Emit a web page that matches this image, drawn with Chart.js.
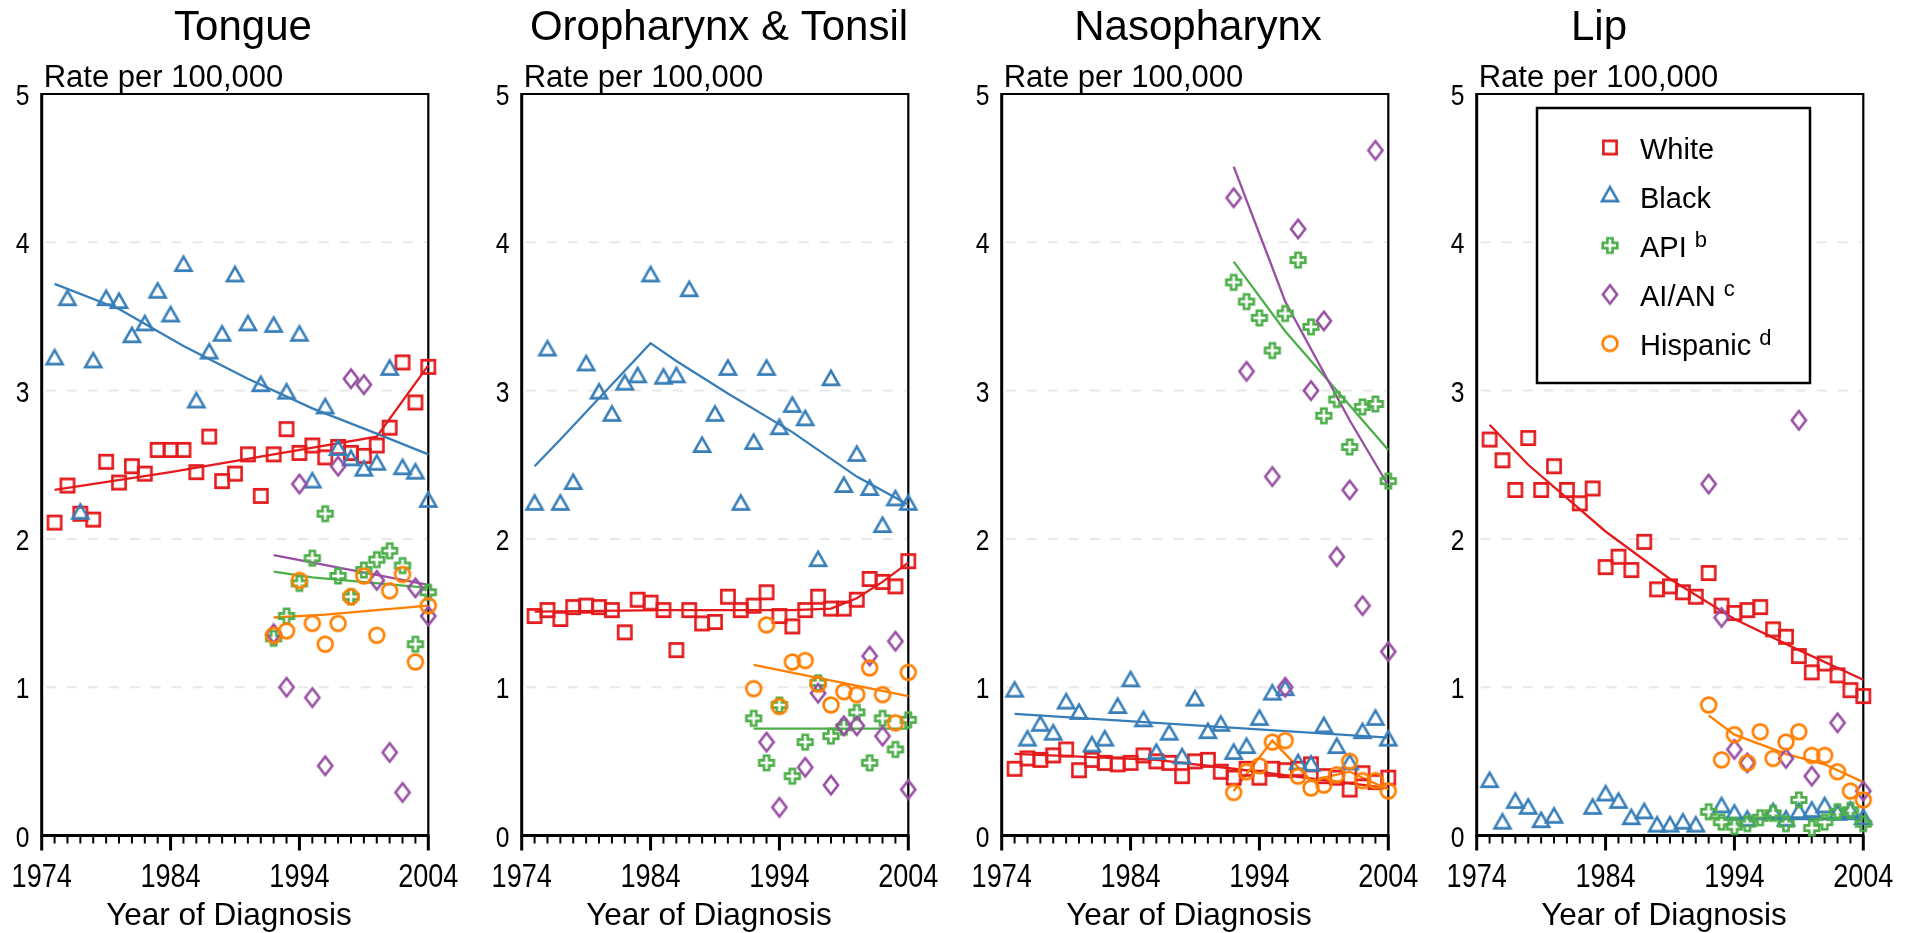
<!DOCTYPE html>
<html><head><meta charset="utf-8">
<script src="https://cdn.jsdelivr.net/npm/chart.js@4.4.1/dist/chart.umd.min.js"></script>
<style>
html,body{margin:0;padding:0;background:#fff;overflow:hidden;width:1914px;height:933px;}
canvas{position:absolute;top:0;}
</style></head><body>
<canvas id="c0" width="480" height="933" style="left:0px"></canvas>
<canvas id="c1" width="480" height="933" style="left:480px"></canvas>
<canvas id="c2" width="480" height="933" style="left:960px"></canvas>
<canvas id="c3" width="479" height="933" style="left:1435px"></canvas>
<script>
// ---------- categories / labels ----------
const years = [1975,1976,1977,1978,1979,1980,1981,1982,1983,1984,1985,1986,1987,1988,1989,1990,1991,1992,1993,1994,1995,1996,1997,1998,1999,2000,2001,2002,2003,2004];
const lateYears = [1992,1993,1994,1995,1996,1997,1998,1999,2000,2001,2002,2003,2004];
const panelTitles = ['Tongue', 'Oropharynx & Tonsil', 'Nasopharynx', 'Lip'];
const xTickLabels = [1974, 1984, 1994, 2004];
const yTickLabels = [0, 1, 2, 3, 4, 5];
const yGridValues = [1, 2, 3, 4];
const yAxisTitle = 'Rate per 100,000';
const xAxisTitle = 'Year of Diagnosis';
const groupNames = ['White', 'Black', 'API', 'AI/AN', 'Hispanic'];
const groupSups = ['', '', 'b', 'c', 'd'];

// ---------- Tongue ----------
const tongueWhite = [2.11,2.36,2.17,2.13,2.52,2.38,2.49,2.44,2.60,2.60,2.60,2.45,2.69,2.39,2.44,2.57,2.29,2.57,2.74,2.58,2.63,2.55,2.62,2.58,2.56,2.63,2.75,3.19,2.92,3.16];
const tongueBlack = [3.21,3.61,2.17,3.19,3.61,3.59,3.36,3.44,3.66,3.50,3.84,2.92,3.25,3.37,3.77,3.44,3.03,3.43,2.98,3.37,2.38,2.88,2.60,2.53,2.46,2.50,3.14,2.47,2.44,2.25];
const tongueApi = [1.33,1.48,1.70,1.87,2.17,1.75,1.61,1.79,1.86,1.92,1.82,1.29,1.64];
const tongueAian = [1.36,1.00,2.37,0.93,0.47,2.49,3.08,3.04,1.72,0.56,0.29,1.67,1.48];
const tongueHisp = [1.35,1.38,1.72,1.43,1.29,1.43,1.61,1.75,1.35,1.65,1.76,1.17,1.55];
const tongueWhiteFit = [[1975,2.33],[1984,2.45],[1992,2.57],[2000,2.69],[2004,3.17]];
const tongueBlackFit = [[1975,3.72],[1980,3.55],[1985,3.30],[1990,3.08],[1995,2.88],[2000,2.71],[2004,2.57]];
const tongueApiFit = [[1992,1.78],[1995,1.74],[2004,1.67]];
const tongueAianFit = [[1992,1.89],[2004,1.69]];
const tongueHispFit = [[1992,1.47],[1996,1.49],[2000,1.52],[2004,1.55]];

// ---------- Oropharynx & Tonsil ----------
const oroWhite = [1.48,1.52,1.46,1.54,1.55,1.54,1.52,1.37,1.59,1.57,1.52,1.25,1.52,1.43,1.44,1.61,1.52,1.55,1.64,1.48,1.41,1.52,1.61,1.53,1.53,1.59,1.73,1.71,1.68,1.85];
const oroBlack = [2.23,3.27,2.23,2.37,3.17,2.98,2.83,3.04,3.09,3.77,3.08,3.09,3.67,2.62,2.83,3.14,2.23,2.64,3.14,2.74,2.89,2.80,1.85,3.07,2.35,2.56,2.33,2.08,2.26,2.23];
const oroApi = [0.79,0.49,0.88,0.40,0.63,1.03,0.67,0.73,0.83,0.49,0.79,0.58,0.78];
const oroAian = [null,0.63,0.19,null,0.46,0.96,0.34,0.74,0.74,1.21,0.67,1.31,0.31];
const oroHisp = [0.99,1.42,0.87,1.17,1.18,1.02,0.88,0.97,0.95,1.13,0.95,0.76,1.10];
const oroWhiteFit = [[1975,1.51],[1985,1.52],[1995,1.52],[1998,1.53],[2000,1.60],[2002,1.71],[2004,1.84]];
const oroBlackFit = [[1975,2.49],[1977,2.67],[1984,3.32],[1986,3.20],[1990,2.98],[1995,2.72],[2000,2.42],[2004,2.23]];
const oroApiFit = [[1992,0.72],[2004,0.72]];
const oroHispFit = [[1992,1.15],[2004,0.94]];

// ---------- Nasopharynx ----------
const nasoWhite = [0.45,0.52,0.51,0.54,0.58,0.44,0.51,0.49,0.48,0.49,0.54,0.50,0.49,0.40,0.50,0.51,0.43,0.39,0.45,0.39,0.45,0.44,0.45,0.48,0.40,0.39,0.31,0.42,0.36,0.39];
const nasoBlack = [0.97,0.64,0.74,0.68,0.89,0.82,0.60,0.64,0.86,1.04,0.77,0.55,0.68,0.52,0.91,0.69,0.74,0.55,0.59,0.78,0.95,0.98,0.48,0.47,0.73,0.59,0.48,0.69,0.78,0.64];
const nasoApi = [3.73,3.60,3.49,3.27,3.52,3.88,3.43,2.83,2.94,2.62,2.89,2.91,2.39];
const nasoAian = [4.30,3.13,null,2.42,1.00,4.09,3.00,3.47,1.88,2.33,1.55,4.62,1.24];
const nasoHisp = [0.29,0.43,0.47,0.63,0.64,0.40,0.32,0.34,0.41,0.50,0.37,0.37,0.30];
const nasoWhiteFit = [[1975,0.55],[1986,0.51],[1992,0.45],[2004,0.32]];
const nasoBlackFit = [[1975,0.82],[2004,0.66]];
const nasoApiFit = [[1992,3.87],[1996,3.40],[2000,3.00],[2004,2.60]];
const nasoAianFit = [[1992,4.51],[1995,3.83],[1996,3.60],[2001,2.80],[2004,2.36]];
const nasoHispFit = [[1992,0.30],[1995,0.64],[1998,0.37],[2001,0.43],[2004,0.31]];

// ---------- Lip ----------
const lipWhite = [2.67,2.53,2.33,2.68,2.33,2.49,2.33,2.24,2.34,1.81,1.88,1.79,1.98,1.66,1.68,1.64,1.61,1.77,1.55,1.50,1.52,1.54,1.39,1.34,1.21,1.10,1.16,1.08,0.98,0.94];
const lipBlack = [0.36,0.08,0.22,0.18,0.09,0.12,null,null,0.18,0.27,0.22,0.11,0.15,0.06,0.06,0.08,0.06,null,0.19,0.14,0.10,null,0.15,0.10,0.15,0.16,0.19,0.14,0.16,0.11];
const lipApi = [0.16,0.09,0.06,0.08,0.12,0.15,0.08,0.24,0.05,0.09,0.16,0.17,0.08];
const lipAian = [2.37,1.47,0.58,0.49,null,null,0.52,2.80,0.40,null,0.76,null,0.30];
const lipHisp = [0.88,0.51,0.68,0.49,0.70,0.52,0.63,0.70,0.54,0.54,0.43,0.30,0.24];
const lipWhiteFit = [[1975,2.77],[1978,2.50],[1984,2.05],[1989,1.73],[1994,1.46],[1999,1.25],[2004,1.05]];
const lipBlackFit = [[1995,0.11],[2004,0.11]];
const lipApiFit = [[1992,0.12],[2004,0.12]];
const lipHispFit = [[1992,0.81],[1994,0.68],[1998,0.55],[2001,0.48],[2004,0.36]];

// ---------- styles ----------
const groupColors = ['#e41a1c', '#377eb8', '#4daf4a', '#984ea3', '#ff7f00'];
const groupShapes = ['square', 'triangle', 'cross', 'diamond', 'circle'];
const SANS = '"Liberation Sans", Arial, Helvetica, sans-serif';

const panels = [
  { title: panelTitles[0], titleX: 243, vals: [tongueWhite, tongueBlack, tongueApi, tongueAian, tongueHisp],
    fits: [tongueWhiteFit, tongueBlackFit, tongueApiFit, tongueAianFit, tongueHispFit] },
  { title: panelTitles[1], titleX: 239, vals: [oroWhite, oroBlack, oroApi, oroAian, oroHisp],
    fits: [oroWhiteFit, oroBlackFit, oroApiFit, null, oroHispFit] },
  { title: panelTitles[2], titleX: 238, vals: [nasoWhite, nasoBlack, nasoApi, nasoAian, nasoHisp],
    fits: [nasoWhiteFit, nasoBlackFit, nasoApiFit, nasoAianFit, nasoHispFit] },
  { title: panelTitles[3], titleX: 164, vals: [lipWhite, lipBlack, lipApi, lipAian, lipHisp],
    fits: [lipWhiteFit, lipBlackFit, lipApiFit, null, lipHispFit], legend: true }
];

// narrow font detection
const tctx = document.createElement('canvas').getContext('2d');
tctx.font = '40px "Liberation Sans Narrow", monospace';
const wN = tctx.measureText('Year of Diagnosis 1974').width;
tctx.font = '40px monospace';
const wM = tctx.measureText('Year of Diagnosis 1974').width;
const hasNarrow = Math.abs(wN - wM) > 1;

function narrowText(ctx, str, x, y, size, align) {
  ctx.save();
  ctx.textAlign = align; ctx.textBaseline = 'alphabetic'; ctx.fillStyle = '#000';
  if (hasNarrow) {
    ctx.font = size + 'px "Liberation Sans Narrow"';
    ctx.fillText(str, x, y);
  } else {
    ctx.translate(x, y); ctx.scale(0.82, 1);
    ctx.font = size + 'px ' + SANS;
    ctx.fillText(str, 0, 0);
  }
  ctx.restore();
}

function makeMarker(shape, color) {
  const S = 28, c = S / 2;
  const cv = document.createElement('canvas'); cv.width = S; cv.height = S;
  const g = cv.getContext('2d');
  g.strokeStyle = color; g.lineWidth = 2.6; g.lineJoin = 'miter';
  g.beginPath();
  if (shape === 'square') g.rect(c - 6.6, c - 6.6, 13.2, 13.2);
  else if (shape === 'triangle') { g.moveTo(c, c - 9.3); g.lineTo(c + 8.0, c + 4.6); g.lineTo(c - 8.0, c + 4.6); g.closePath(); }
  else if (shape === 'cross') {
    const a = 7.3, b = 2.6;
    g.moveTo(c - b, c - a); g.lineTo(c + b, c - a); g.lineTo(c + b, c - b); g.lineTo(c + a, c - b);
    g.lineTo(c + a, c + b); g.lineTo(c + b, c + b); g.lineTo(c + b, c + a); g.lineTo(c - b, c + a);
    g.lineTo(c - b, c + b); g.lineTo(c - a, c + b); g.lineTo(c - a, c - b); g.lineTo(c - b, c - b); g.closePath();
  }
  else if (shape === 'diamond') { g.moveTo(c, c - 9.2); g.lineTo(c + 7.1, c); g.lineTo(c, c + 9.2); g.lineTo(c - 7.1, c); g.closePath(); }
  else if (shape === 'circle') g.arc(c, c, 7.4, 0, Math.PI * 2);
  g.stroke();
  return cv;
}
const markers = groupShapes.map((s, i) => makeMarker(s, groupColors[i]));

const decorPlugin = {
  id: 'decor',
  beforeDatasetsDraw(chart) {
    const { ctx, chartArea: a, scales: { x, y } } = chart;
    ctx.save();
    ctx.strokeStyle = '#e8e8e8'; ctx.lineWidth = 2; ctx.setLineDash([10, 11]);
    yGridValues.forEach(v => {
      const py = y.getPixelForValue(v);
      ctx.beginPath(); ctx.moveTo(a.left + 4, py); ctx.lineTo(a.right - 2, py); ctx.stroke();
    });
    ctx.setLineDash([]);
    ctx.strokeStyle = '#000';
    ctx.lineWidth = 2.2;
    ctx.beginPath(); ctx.moveTo(a.left, a.top); ctx.lineTo(a.right, a.top); ctx.lineTo(a.right, a.bottom); ctx.stroke();
    ctx.lineWidth = 3;
    ctx.beginPath(); ctx.moveTo(a.left, a.top - 1); ctx.lineTo(a.left, a.bottom); ctx.lineTo(a.right + 1, a.bottom); ctx.stroke();
    // x ticks
    x.ticks.forEach(t => {
      const px = x.getPixelForValue(t.value);
      const major = xTickLabels.includes(t.value);
      ctx.lineWidth = major ? 3 : 2;
      ctx.beginPath(); ctx.moveTo(px, a.bottom); ctx.lineTo(px, a.bottom + (major ? 15 : 8)); ctx.stroke();
    });
    ctx.restore();
  },
  afterDraw(chart) {
    const { ctx, chartArea: a, scales: { x, y } } = chart;
    const p = chart.options.plugins.decor;
    ctx.save();
    // x tick labels
    xTickLabels.forEach(v => narrowText(ctx, String(v), x.getPixelForValue(v), 887, 33, 'center'));
    // y tick labels
    yTickLabels.forEach(v => narrowText(ctx, String(v), a.left - 19, y.getPixelForValue(v) + 11, 30, 'center'));
    ctx.fillStyle = '#000'; ctx.textBaseline = 'alphabetic';
    // x title
    ctx.textAlign = 'center';
    ctx.font = '31.5px ' + SANS;
    ctx.fillText(xAxisTitle, (a.left + a.right) / 2 - 6, 925);
    // y title
    ctx.textAlign = 'left';
    ctx.font = '31px ' + SANS;
    ctx.fillText(yAxisTitle, a.left + 2, 87);
    // panel title
    ctx.textAlign = 'center';
    ctx.font = '42px ' + SANS;
    ctx.fillText(p.title, p.titleX, 40);
    // legend
    if (p.legend) {
      const bx = 102, by = 108, bw = 273, bh = 275;
      ctx.fillStyle = '#fff'; ctx.fillRect(bx, by, bw, bh);
      ctx.strokeStyle = '#000'; ctx.lineWidth = 2.5; ctx.strokeRect(bx, by, bw, bh);
      groupNames.forEach((name, i) => {
        const my = 147.5 + i * 49;
        ctx.drawImage(markers[i], 175 - 14, my - 14);
        ctx.fillStyle = '#000'; ctx.textAlign = 'left';
        ctx.font = '29px ' + SANS;
        ctx.fillText(name, 205, my + 11.5);
        if (groupSups[i]) {
          const w = ctx.measureText(name).width;
          ctx.font = '22px ' + SANS;
          ctx.fillText(groupSups[i], 205 + w + 8, my + 1);
        }
      });
    }
    ctx.restore();
  }
};

panels.forEach((p, k) => {
  const canvas = document.getElementById('c' + k);
  const W = canvas.width;
  const datasets = [];
  p.vals.forEach((vals, g) => {
    const xs = vals.length === years.length ? years : lateYears;
    const pts = xs.map((yr, i) => ({ x: yr, y: vals[i] })).filter(pt => pt.y !== null);
    datasets.push({
      label: groupNames[g], data: pts, showLine: false, pointStyle: markers[g],
      pointRadius: 8, pointHoverRadius: 8, clip: false, order: 10 - g
    });
    const fit = p.fits[g];
    if (fit) {
      datasets.push({
        label: groupNames[g] + ' trend', data: fit.map(([xv, yv]) => ({ x: xv, y: yv })),
        showLine: true, borderColor: groupColors[g], borderWidth: 2.3, pointRadius: 0,
        fill: false, tension: 0, clip: false, order: 20 - g
      });
    }
  });
  new Chart(canvas, {
    type: 'scatter',
    data: { datasets },
    options: {
      responsive: false, animation: false, devicePixelRatio: 1, events: [],
      layout: { padding: { left: 0, right: W - 428.3, top: 94, bottom: 0 } },
      plugins: {
        legend: { display: false }, tooltip: { enabled: false }, title: { display: false },
        decor: { title: p.title, titleX: p.titleX, legend: !!p.legend }
      },
      scales: {
        x: { type: 'linear', min: 1974, max: 2004,
             ticks: { display: false, stepSize: 1 },
             grid: { display: false, drawTicks: false }, border: { display: false },
             afterFit(s) { s.height = 97.5; } },
        y: { type: 'linear', min: 0, max: 5,
             ticks: { display: false, stepSize: 1 },
             grid: { display: false, drawTicks: false }, border: { display: false },
             afterFit(s) { s.width = 41.7; } }
      }
    },
    plugins: [decorPlugin]
  });
});
</script>
</body></html>
